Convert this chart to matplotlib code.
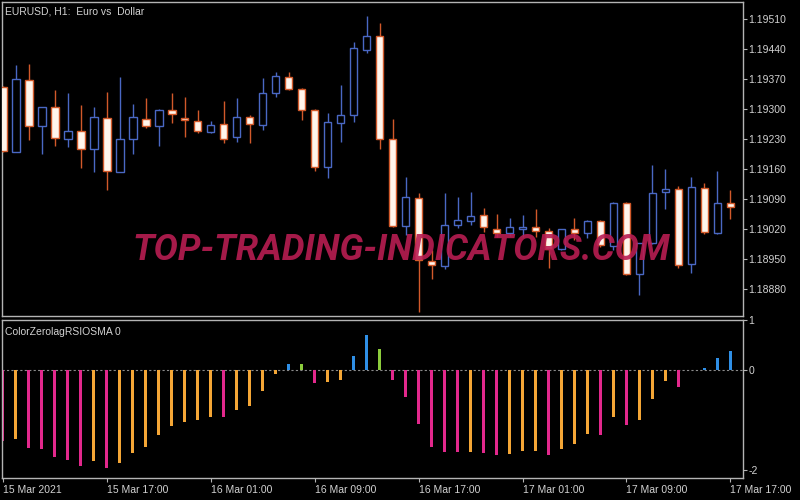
import numpy as np
import matplotlib
matplotlib.use("Agg")
import matplotlib.pyplot as plt

# EURUSD H1 candles, 15 Mar 09:00 .. 17 Mar 17:00
opens = [1.19351, 1.19200, 1.19369, 1.19260, 1.19304, 1.19231, 1.19249, 1.19208, 1.19280, 1.19154,
         1.19231, 1.19277, 1.19260, 1.19298, 1.19280, 1.19273, 1.19247, 1.19265, 1.19234, 1.19281,
         1.19264, 1.19337, 1.19375, 1.19348, 1.19299, 1.19164, 1.19267, 1.19286, 1.19439, 1.19470,
         1.19231, 1.19027, 1.19092, 1.18945, 1.18934, 1.19029, 1.19039, 1.19053, 1.19019, 1.19010,
         1.19020, 1.19025, 1.19015, 1.18973, 1.19019, 1.19011, 1.19038, 1.18980, 1.19080, 1.18914,
         1.18987, 1.19106, 1.19113, 1.18938, 1.19115, 1.19010, 1.19080]
highs = [1.19354, 1.19403, 1.19405, 1.19306, 1.19344, 1.19338, 1.19309, 1.19304, 1.19340, 1.19375,
         1.19313, 1.19325, 1.19300, 1.19338, 1.19329, 1.19299, 1.19273, 1.19319, 1.19325, 1.19286,
         1.19373, 1.19387, 1.19387, 1.19349, 1.19300, 1.19290, 1.19356, 1.19456, 1.19517, 1.19500,
         1.19278, 1.19141, 1.19103, 1.18971, 1.19103, 1.19094, 1.19107, 1.19068, 1.19055, 1.19045,
         1.19053, 1.19066, 1.19022, 1.19020, 1.19045, 1.19041, 1.19042, 1.19084, 1.19084, 1.18988,
         1.19169, 1.19159, 1.19120, 1.19142, 1.19128, 1.19155, 1.19111]
lows = [1.19200, 1.19199, 1.19228, 1.19195, 1.19214, 1.19212, 1.19162, 1.19154, 1.19111, 1.19153,
        1.19195, 1.19255, 1.19214, 1.19267, 1.19234, 1.19245, 1.19244, 1.19221, 1.19224, 1.19221,
        1.19251, 1.19329, 1.19344, 1.19274, 1.19156, 1.19138, 1.19224, 1.19270, 1.19430, 1.19206,
        1.19025, 1.19006, 1.18827, 1.18903, 1.18926, 1.19022, 1.19029, 1.19014, 1.19002, 1.19004,
        1.19002, 1.19002, 1.18928, 1.18971, 1.18994, 1.18998, 1.18979, 1.18971, 1.18913, 1.18866,
        1.18986, 1.19066, 1.18928, 1.18917, 1.19008, 1.19009, 1.19043]
closes = [1.19203, 1.19370, 1.19260, 1.19305, 1.19232, 1.19250, 1.19206, 1.19281, 1.19156, 1.19231,
          1.19281, 1.19260, 1.19299, 1.19288, 1.19274, 1.19248, 1.19264, 1.19231, 1.19281, 1.19265,
          1.19337, 1.19377, 1.19348, 1.19299, 1.19164, 1.19269, 1.19286, 1.19442, 1.19471, 1.19231,
          1.19027, 1.19094, 1.18948, 1.18936, 1.19029, 1.19041, 1.19051, 1.19024, 1.19010, 1.19024,
          1.19025, 1.19015, 1.18973, 1.19019, 1.19011, 1.19038, 1.18983, 1.19080, 1.18914, 1.18987,
          1.19105, 1.19113, 1.18936, 1.19117, 1.19014, 1.19081, 1.19072]

# ColorZerolagRSIOSMA histogram
osma = [-1.41, -1.37, -1.55, -1.57, -1.73, -1.79, -1.91, -1.81, -1.95, -1.85,
        -1.66, -1.53, -1.29, -1.12, -1.03, -0.99, -0.93, -0.94, -0.79, -0.71,
        -0.42, -0.07, 0.13, 0.12, -0.25, -0.24, -0.19, 0.29, 0.70, 0.43,
        -0.20, -0.54, -1.07, -1.53, -1.63, -1.64, -1.63, -1.65, -1.69, -1.67,
        -1.62, -1.61, -1.70, -1.57, -1.47, -1.27, -1.29, -0.94, -1.09, -0.99,
        -0.57, -0.21, -0.33, 0.0, 0.05, 0.25, 0.38]
# P = falling below zero, O = rising below zero, B = rising above zero, G = falling above zero
osma_state = list("POPPPPPOPO" "OOOOOOOPOO" "OOBGPOOBBG" "PPPPPPOPPO" "OOPOOOPOPO" "OOPBBBB")

price_ticks = [1.19510, 1.19440, 1.19370, 1.19300, 1.19230, 1.19160, 1.19090, 1.19020, 1.18950, 1.18880]
time_tick_pos = [0, 8, 16, 24, 32, 40, 48, 56]
time_labels = ['15 Mar 2021', '15 Mar 17:00', '16 Mar 01:00', '16 Mar 09:00',
               '16 Mar 17:00', '17 Mar 01:00', '17 Mar 09:00', '17 Mar 17:00']

plt.rcParams['font.family'] = ['Liberation Sans', 'DejaVu Sans']
txt_col = '#d2d2d2'
frame_col = '#b4b4b4'
bull_col = '#4a68c4'
bear_col = '#d2592a'
bear_face = '#fff5ec'
state_cols = {'P': '#e2288c', 'O': '#f4a636', 'B': '#2f8fe6', 'G': '#8ccc3c'}

o = np.array(opens); h = np.array(highs); l = np.array(lows); c = np.array(closes)
x = np.arange(len(o))
up = c >= o

fig = plt.figure(figsize=(8, 5), dpi=100, facecolor='black')
ax = fig.add_axes([0.0025, 0.368, 0.926, 0.628])
ax2 = fig.add_axes([0.0025, 0.044, 0.926, 0.316])

for a in (ax, ax2):
    a.set_facecolor('black')
    for s in a.spines.values():
        s.set_color(frame_col)
        s.set_linewidth(1.0)
    a.set_xlim(-0.05, 56.95)
    a.yaxis.tick_right()
    a.tick_params(axis='y', colors=frame_col, labelcolor=txt_col, length=3, labelsize=7.5, pad=1)

# candles
ax.vlines(x[up], l[up], h[up], color=bull_col, lw=1, zorder=2)
ax.vlines(x[~up], l[~up], h[~up], color=bear_col, lw=1, zorder=2)
ax.bar(x[up], (c - o)[up], bottom=o[up], width=0.6, facecolor='black',
       edgecolor=bull_col, linewidth=1, zorder=3)
ax.bar(x[~up], (c - o)[~up], bottom=o[~up], width=0.6, facecolor=bear_face,
       edgecolor=bear_col, linewidth=1, zorder=3)
ax.set_ylim(1.18817, 1.19550)
ax.set_yticks(price_ticks)
ax.set_yticklabels([f'{p:.5f}' for p in price_ticks])
ax.set_xticks([])
ax.text(0.004, 0.985, 'EURUSD, H1:  Euro vs  Dollar', transform=ax.transAxes,
        color=txt_col, fontsize=7.5, va='top', ha='left')

# indicator
ax2.axhline(0, color='#8a8a8a', lw=0.8, ls=(0, (2, 2)), zorder=1)
ax2.bar(x, osma, width=0.25, color=[state_cols[s] for s in osma_state], zorder=2)
ax2.set_ylim(-2.15, 1.0)
ax2.set_yticks([1, 0, -2])
ax2.set_yticklabels(['1', '0', '-2'])
ax2.set_xticks(time_tick_pos)
ax2.set_xticklabels(time_labels)
ax2.tick_params(axis='x', colors=frame_col, labelcolor=txt_col, length=3, labelsize=7.5, pad=2)
plt.setp(ax2.get_xticklabels(), ha='left')
ax2.text(0.004, 0.955, 'ColorZerolagRSIOSMA 0', transform=ax2.transAxes,
         color=txt_col, fontsize=7.5, va='top', ha='left')

# watermark
fig.text(401 / 800, 1 - 250 / 500, 'TOP-TRADING-INDICATORS.COM', ha='center', va='center',
         color='#b81d52', alpha=0.9, fontsize=26, fontweight='bold', fontstyle='italic',
         family=['Roboto', 'DejaVu Sans'], zorder=10)

fig.savefig('out.png', dpi=100, facecolor='black')
